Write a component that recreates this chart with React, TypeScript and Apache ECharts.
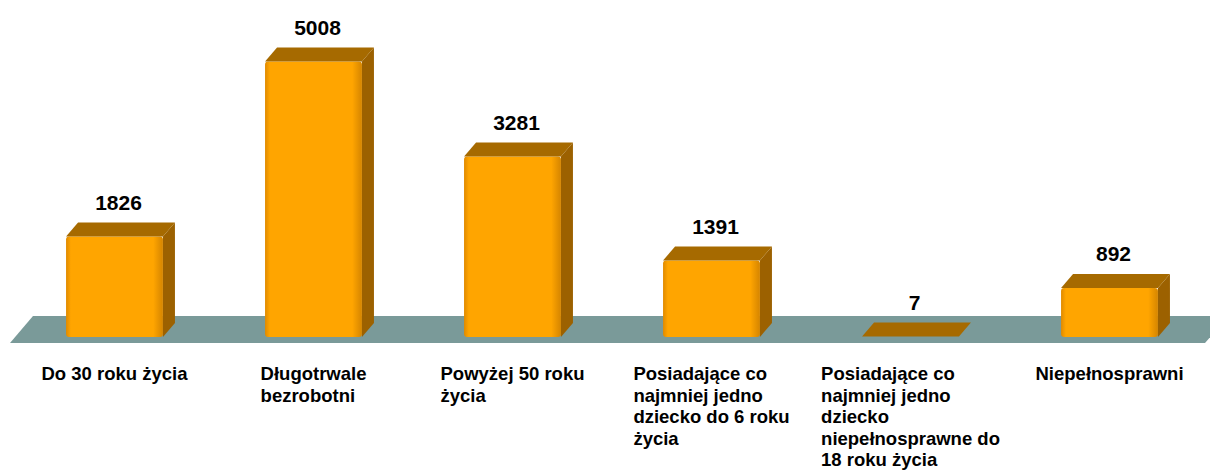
import React, { useEffect, useRef } from "react";
import * as echarts from "echarts";

const categories: string[] = [
  "Do 30 roku życia",
  "Długotrwale\nbezrobotni",
  "Powyżej 50 roku\nżycia",
  "Posiadające co\nnajmniej jedno\ndziecko do 6 roku\nżycia",
  "Posiadające co\nnajmniej jedno\ndziecko\nniepełnosprawne do\n18 roku życia",
  "Niepełnosprawni",
];
const values: number[] = [1826, 5008, 3281, 1391, 7, 892];

const DX = 12;
const DY = -14;

export default function App() {
  const ref = useRef<HTMLDivElement>(null);
  useEffect(() => {
    if (!ref.current) return;
    const chart = echarts.init(ref.current, null, { renderer: "svg" });
    const font = '"Liberation Sans", Arial, sans-serif';
    chart.setOption({
      animation: false,
      backgroundColor: "#ffffff",
      grid: { left: 15, right: 1, top: 7, bottom: 133, containLabel: false },
      xAxis: {
        type: "category",
        data: categories,
        boundaryGap: true,
        axisLine: { show: false },
        axisTick: { show: false },
        splitLine: { show: false },
        axisLabel: {
          interval: 0,
          margin: 26,
          align: "center",
          verticalAlign: "top",
          formatter: (val: string) =>
            val
              .split("\n")
              .map((l) => "{a|" + l + "}")
              .join("\n"),
          rich: {
            a: {
              fontFamily: font,
              fontWeight: "bold",
              fontSize: 18.5,
              lineHeight: 21.5,
              color: "#000000",
              align: "left",
            },
          },
        },
      },
      yAxis: {
        type: "value",
        min: 0,
        max: 6000,
        show: false,
        splitLine: { show: false },
      },
      series: [
        {
          type: "custom",
          name: "floor",
          silent: true,
          z: 1,
          data: [[0, 0]],
          encode: { x: 0, y: 1 },
          renderItem: (params: any, api: any) => {
            const cs = params.coordSys;
            const yBase = api.coord([0, 0])[1];
            const fl = cs.x - 5;
            const fr = cs.x + cs.width - 4;
            const yb = yBase + 6;
            const yt = yBase - 21;
            return {
              type: "polygon",
              shape: {
                points: [
                  [fl, yb],
                  [fl + 23, yt],
                  [fr + 23, yt],
                  [fr, yb],
                ],
              },
              style: { fill: "#7A9A99" },
            };
          },
        },
        {
          type: "custom",
          name: "bars",
          z: 2,
          data: values.map((v, i) => [i, v]),
          encode: { x: 0, y: 1 },
          renderItem: (params: any, api: any) => {
            const idx = api.value(0);
            const v = api.value(1);
            const top = api.coord([idx, v]);
            const base = api.coord([idx, 0]);
            const band = api.size([1, 0])[0];
            const w = band * 0.487;
            const cx = top[0];
            const xl = cx - w / 2;
            const xr = cx + w / 2;
            const yt = top[1];
            const yb = base[1];
            const children: any[] = [];
            if (yb - yt > 1) {
              children.push({
                type: "polygon",
                shape: {
                  points: [
                    [xr, yt],
                    [xr + DX, yt + DY],
                    [xr + DX, yb + DY],
                    [xr, yb],
                  ],
                },
                style: { fill: "#9C6100" },
              });
              children.push({
                type: "rect",
                shape: { x: xl, y: yt, width: w, height: yb - yt, r: 3 },
                style: {
                  fill: new echarts.graphic.LinearGradient(0, 0, 1, 0, [
                    { offset: 0, color: "#E08A00" },
                    { offset: 0.05, color: "#FFA500" },
                    { offset: 0.9, color: "#FFA500" },
                    { offset: 1, color: "#D58500" },
                  ]),
                },
              });
            }
            children.push({
              type: "polygon",
              shape: {
                points: [
                  [xl, yt],
                  [xr, yt],
                  [xr + DX, yt + DY],
                  [xl + DX, yt + DY],
                ],
              },
              style: { fill: "#A66A00" },
            });
            children.push({
              type: "text",
              style: {
                text: String(values[idx]),
                x: cx + DX / 2 - 2,
                y: yt + DY - 20,
                align: "center",
                verticalAlign: "middle",
                font: "bold 21px " + font,
                fill: "#000000",
              },
            });
            return { type: "group", children };
          },
        },
      ],
    });
    return () => chart.dispose();
  }, []);
  return (
    <div
      ref={ref}
      style={{ position: "fixed", left: 0, top: 0, width: 1210, height: 470 }}
    />
  );
}
